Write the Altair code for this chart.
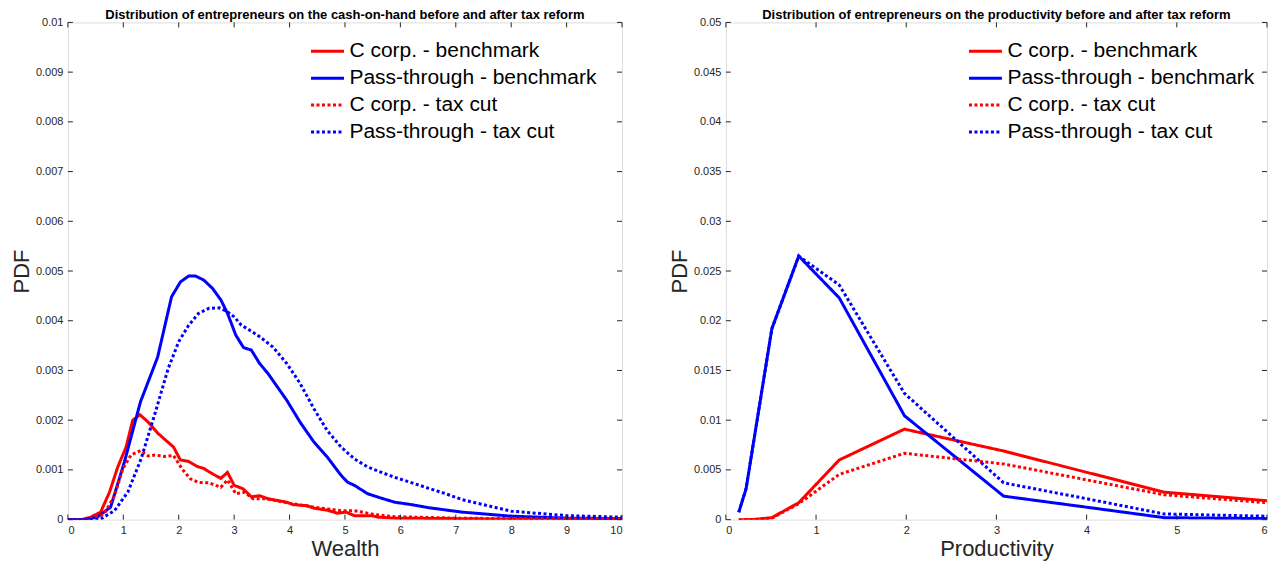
import altair as alt
import pandas as pd

SERIES = ["C corp. - benchmark", "Pass-through - benchmark", "C corp. - tax cut", "Pass-through - tax cut"]
COLORS = ["#ff0000", "#0000ff", "#ff0000", "#0000ff"]
DASHES = [[1, 0], [1, 0], [3, 2.5], [3, 2.5]]

# ---- Left panel: wealth (cash-on-hand) ----
w_pass_bench_x = [0, 0.3, 0.53, 0.77, 1.02, 1.31, 1.62, 1.87, 2.03, 2.18, 2.30, 2.45, 2.61, 2.76, 2.88, 3.03, 3.17, 3.31, 3.46, 3.61, 3.95, 4.19, 4.44, 4.68, 4.93, 5.05, 5.17, 5.41, 5.66, 5.90, 6.21, 6.51, 7.12, 8.0, 9.0, 10.0]
w_pass_bench_y = [0, 0, 0.05, 0.25, 1.16, 2.37, 3.27, 4.48, 4.78, 4.90, 4.90, 4.82, 4.65, 4.42, 4.15, 3.71, 3.46, 3.41, 3.14, 2.94, 2.40, 1.96, 1.56, 1.26, 0.89, 0.75, 0.69, 0.52, 0.43, 0.35, 0.30, 0.24, 0.15, 0.07, 0.03, 0.02]

w_pass_cut_x = [0, 0.35, 0.59, 0.84, 1.08, 1.32, 1.57, 1.81, 2.00, 2.18, 2.36, 2.545, 2.73, 2.88, 3.00, 3.13, 3.28, 3.46, 3.70, 3.95, 4.19, 4.44, 4.68, 4.93, 5.17, 5.41, 5.66, 5.90, 6.21, 6.51, 6.82, 7.12, 8.0, 9.0, 10.0]
w_pass_cut_y = [0, 0, 0.01, 0.18, 0.55, 1.22, 2.13, 3.04, 3.58, 3.91, 4.15, 4.25, 4.26, 4.18, 4.08, 3.91, 3.81, 3.68, 3.47, 3.14, 2.74, 2.23, 1.79, 1.46, 1.22, 1.06, 0.95, 0.85, 0.74, 0.63, 0.52, 0.40, 0.17, 0.08, 0.05]

w_c_bench_x = [0, 0.25, 0.41, 0.59, 0.75, 0.90, 1.05, 1.17, 1.30, 1.45, 1.63, 1.905, 2.03, 2.18, 2.33, 2.45, 2.61, 2.76, 2.88, 3.00, 3.16, 3.31, 3.46, 3.61, 3.95, 4.07, 4.32, 4.44, 4.68, 4.86, 5.02, 5.17, 5.48, 5.60, 5.90, 7.0, 8.0, 10.0]
w_c_bench_y = [0, 0, 0.05, 0.15, 0.55, 1.06, 1.46, 2.00, 2.11, 1.96, 1.73, 1.46, 1.20, 1.17, 1.07, 1.03, 0.92, 0.83, 0.95, 0.69, 0.62, 0.46, 0.48, 0.42, 0.35, 0.30, 0.28, 0.23, 0.19, 0.13, 0.15, 0.08, 0.08, 0.05, 0.03, 0.02, 0.01, 0.01]

w_c_cut_x = [0, 0.3, 0.47, 0.65, 0.84, 0.99, 1.14, 1.31, 1.45, 1.57, 1.75, 1.905, 2.06, 2.21, 2.36, 2.545, 2.76, 2.88, 3.03, 3.19, 3.34, 3.58, 3.95, 4.44, 4.93, 5.17, 5.54, 5.90, 7.0, 8.0, 10.0]
w_c_cut_y = [0, 0, 0.03, 0.11, 0.48, 1.02, 1.30, 1.39, 1.28, 1.30, 1.27, 1.29, 1.02, 0.82, 0.75, 0.74, 0.65, 0.80, 0.52, 0.55, 0.42, 0.42, 0.34, 0.25, 0.18, 0.18, 0.10, 0.06, 0.03, 0.02, 0.02]

# ---- Right panel: productivity ----
p_pass_bench_x = [0.143, 0.224, 0.51, 0.808, 1.257, 1.98, 3.08, 4.0, 4.86, 6.0]
p_pass_bench_y = [0.00074, 0.0031, 0.0192, 0.0265, 0.0223, 0.01045, 0.00236, 0.00125, 0.0002, 0.0001]
p_pass_cut_x = [0.143, 0.224, 0.51, 0.808, 1.257, 1.98, 3.08, 4.0, 4.86, 6.0]
p_pass_cut_y = [0.00074, 0.0031, 0.0192, 0.0265, 0.0236, 0.0127, 0.0037, 0.0021, 0.00057, 0.00034]
p_c_bench_x = [0.143, 0.224, 0.33, 0.51, 0.808, 1.257, 1.98, 3.08, 4.86, 6.0]
p_c_bench_y = [0.0, 0.0, 0.00003, 0.0002, 0.0017, 0.0060, 0.0091, 0.0069, 0.00276, 0.0019]
p_c_cut_x = [0.143, 0.224, 0.33, 0.51, 0.808, 1.257, 1.98, 3.08, 4.86, 6.0]
p_c_cut_y = [0.0, 0.0, 0.00002, 0.00015, 0.0016, 0.00455, 0.00667, 0.0056, 0.0025, 0.0017]

left_xticks = [0, 1, 2, 3, 4, 5, 6, 7, 8, 9, 10]
left_yticks = [0, 0.001, 0.002, 0.003, 0.004, 0.005, 0.006, 0.007, 0.008, 0.009, 0.01]
right_xticks = [0, 1, 2, 3, 4, 5, 6]
right_yticks = [0, 0.005, 0.01, 0.015, 0.02, 0.025, 0.03, 0.035, 0.04, 0.045, 0.05]

FONT = "Liberation Sans"
AX = "#262626"


def frame(pairs, scale_y=1.0):
    rows = []
    for name, xs, ys in pairs:
        for i, (a, b) in enumerate(zip(xs, ys)):
            rows.append({"x": a, "y": b * scale_y, "series": name, "i": i})
    return pd.DataFrame(rows)


left_df = frame([
    (SERIES[0], w_c_bench_x, w_c_bench_y),
    (SERIES[1], w_pass_bench_x, w_pass_bench_y),
    (SERIES[2], w_c_cut_x, w_c_cut_y),
    (SERIES[3], w_pass_cut_x, w_pass_cut_y),
], scale_y=0.001)

right_df = frame([
    (SERIES[0], p_c_bench_x, p_c_bench_y),
    (SERIES[1], p_pass_bench_x, p_pass_bench_y),
    (SERIES[2], p_c_cut_x, p_c_cut_y),
    (SERIES[3], p_pass_cut_x, p_pass_cut_y),
])


def panel(df, xdom, ydom, xticks, yticks, xtitle, title, W, H, legx, legy):
    X = alt.X("x:Q", scale=alt.Scale(domain=xdom, nice=False, zero=False),
              axis=alt.Axis(values=xticks, format="~r", title=xtitle, grid=False,
                            domain=False, ticks=False, labelPadding=5,
                            labelFont=FONT, labelFontSize=11, labelColor=AX,
                            titleFont=FONT, titleFontSize=22, titleFontWeight="normal",
                            titleColor=AX, titlePadding=3))
    Y = alt.Y("y:Q", scale=alt.Scale(domain=ydom, nice=False, zero=False),
              axis=alt.Axis(values=yticks, format="~r", title="PDF", grid=False,
                            domain=False, ticks=False, labelPadding=5,
                            labelFont=FONT, labelFontSize=11, labelColor=AX,
                            titleFont=FONT, titleFontSize=22, titleFontWeight="normal",
                            titleColor=AX, titlePadding=2))
    leg = alt.Legend(title=None, orient="none", legendX=legx, legendY=legy,
                     symbolType="M-1.5,0H1.5", symbolSize=484, symbolStrokeWidth=3,
                     labelFont=FONT, labelFontSize=21, labelColor="#000000",
                     labelOffset=9.5, rowPadding=3.9, padding=0, labelLimit=400)
    lines = alt.Chart(df).mark_line(strokeWidth=3, clip=True, strokeCap="butt").encode(
        x=X, y=Y,
        order="i:Q",
        color=alt.Color("series:N", scale=alt.Scale(domain=SERIES, range=COLORS), legend=leg, sort=SERIES),
        strokeDash=alt.StrokeDash("series:N", scale=alt.Scale(domain=SERIES, range=DASHES), legend=leg, sort=SERIES),
    )
    xt = pd.DataFrame({"x": xticks})
    yt = pd.DataFrame({"y": yticks})
    bottom = alt.Chart(xt).mark_rule(color=AX, strokeWidth=1).encode(x=X, y=alt.value(H), y2=alt.value(H - 5))
    top = alt.Chart(xt).mark_rule(color=AX, strokeWidth=1).encode(x=X, y=alt.value(0), y2=alt.value(5))
    left = alt.Chart(yt).mark_rule(color=AX, strokeWidth=1).encode(y=Y, x=alt.value(0), x2=alt.value(5))
    right = alt.Chart(yt).mark_rule(color=AX, strokeWidth=1).encode(y=Y, x=alt.value(W), x2=alt.value(W - 5))
    return alt.layer(lines, bottom, top, left, right).properties(
        width=W, height=H,
        title=alt.TitleParams(title, font=FONT, fontSize=13, fontWeight="bold", color="#000000",
                              offset=3, dy=9),
    )


p1 = panel(left_df, [0, 10], [0, 0.01], left_xticks, left_yticks, "Wealth",
           "Distribution of entrepreneurs on the cash-on-hand before and after tax reform",
           555, 498, 247.5, 16.5)
p2 = panel(right_df, [0, 6], [0, 0.05], right_xticks, right_yticks, "Productivity",
           "Distribution of entrepreneurs on the productivity before and after tax reform",
           542, 498, 247.5, 16.5)

chart = alt.hconcat(p1, p2, spacing=44).resolve_scale(
    x="independent", y="independent", color="independent", strokeDash="independent"
).resolve_legend(color="independent", strokeDash="independent").properties(
    padding={"left": 1, "top": 0, "right": 0, "bottom": 0}
).configure_view(stroke=AX, strokeWidth=1).configure(background="white")

chart.save("out.html", embed_options={"renderer": "svg", "actions": False})
